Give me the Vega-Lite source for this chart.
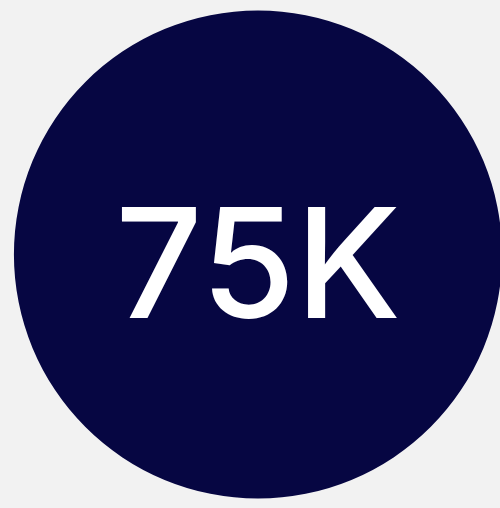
{
  "$schema": "https://vega.github.io/schema/vega-lite/v6.json",
  "autosize": {"type": "fit", "contains": "padding"},
  "width": 500,
  "height": 508,
  "padding": {"left": 16, "right": 0, "top": 1, "bottom": 0},
  "background": "#f2f2f2",
  "config": {"view": {"stroke": null}},
  "data": {"values": [{"value": 75000, "label": "75K"}]},
  "layer": [
    {
      "mark": {"type": "arc", "outerRadius": 244, "color": "#060642", "stroke": null},
      "encoding": {"theta": {"field": "value", "type": "quantitative"}}
    },
    {
      "mark": {"type": "text", "color": "#ffffff", "fontSize": 153, "font": "Inter", "fontWeight": 500, "align": "center", "baseline": "middle", "dy": 17},
      "encoding": {"text": {"field": "label", "type": "nominal"}}
    }
  ]
}
